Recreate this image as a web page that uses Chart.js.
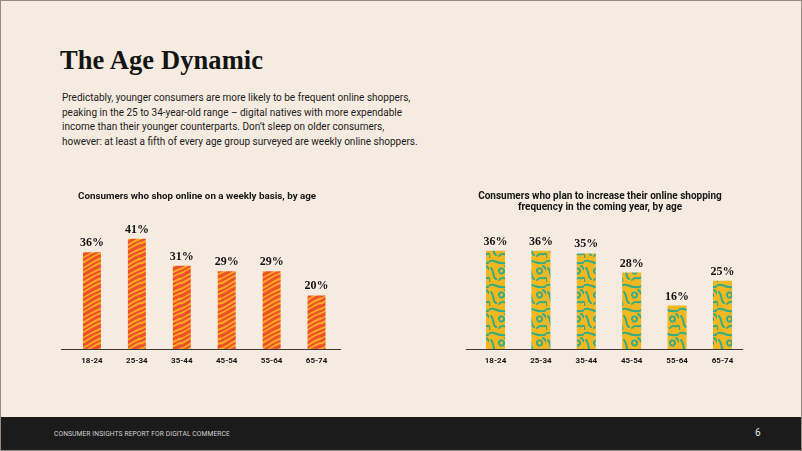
<!DOCTYPE html>
<html>
<head>
<meta charset="utf-8">
<script src="https://cdn.jsdelivr.net/npm/chart.js@4.4.1/dist/chart.umd.min.js"></script>
<style>
  html, body { margin: 0; padding: 0; }
  body { width: 802px; height: 451px; overflow: hidden; }
  #page { position: relative; width: 802px; height: 451px; box-sizing: border-box;
          background: #f5ebe1; border: 1px solid #958b82; overflow: hidden; }
  h1 { position: absolute; left: 59px; top: 44px; margin: 0; font-family: "Liberation Serif", serif;
       font-weight: bold; font-size: 26.5px; color: #141414; letter-spacing: 0.1px; }
  #intro { position: absolute; left: 61px; top: 90px; width: 380px; margin: 0;
           font-family: Roboto, sans-serif; font-size: 10px; line-height: 14.5px; color: #1c1c1c; }
  .cw { position: absolute; }
  #footer { position: absolute; left: 0; top: 416px; width: 802px; height: 35px; background: #1b1b1b; }
  #ftext { position: absolute; left: 53px; top: 13px; font-family: Roboto, sans-serif; font-size: 6.7px;
           color: #d0d0d0; letter-spacing: 0.1px; }
  #pnum { position: absolute; left: 754px; top: 10px; font-family: Roboto, sans-serif; font-size: 10px; color: #e8e8e8; }
</style>
</head>
<body>
<div id="page">
  <h1>The Age Dynamic</h1>
  <p id="intro">Predictably, younger consumers are more likely to be frequent online shoppers,<br>peaking in the 25 to 34-year-old range – digital natives with more expendable<br>income than their younger counterparts. Don’t sleep on older consumers,<br>however: at least a fifth of every age group surveyed are weekly online shoppers.</p>
  <div class="cw" style="left:60px; top:185px; width:285px; height:187px;"><canvas id="c1"></canvas></div>
  <div class="cw" style="left:450px; top:185px; width:300px; height:187px;"><canvas id="c2"></canvas></div>
  <div id="footer"><div id="ftext">CONSUMER INSIGHTS REPORT FOR DIGITAL COMMERCE</div><div id="pnum">6</div></div>
</div>
<script>
// ---- data ----
const ageGroups = ["18-24", "25-34", "35-44", "45-54", "55-64", "65-74"];
const weeklyShoppers = [36, 41, 31, 29, 29, 20];
const planIncrease = [36, 36, 35, 28, 16, 25];
const titleWeekly = ["Consumers who shop online on a weekly basis, by age"];
const titlePlan = ["Consumers who plan to increase their online shopping", "frequency in the coming year, by age"];

// ---- patterns ----
function zebraPattern() {
  const c = document.createElement('canvas'); c.width = 20; c.height = 20;
  const g = c.getContext('2d');
  g.fillStyle = '#fcab22'; g.fillRect(0, 0, 20, 20);
  g.strokeStyle = '#ef4e2a'; g.lineCap = 'butt';
  const widths = [2.8, 2.0, 3.3, 2.3];
  for (let k = -10; k <= 35; k += 5) {
    const idx = (((k / 5) % 4) + 4) % 4;
    g.lineWidth = widths[idx];
    g.beginPath();
    g.moveTo(-1, k + 0.5);
    g.bezierCurveTo(6, k - 1 - idx * 0.6, 12, k - 9 + idx * 0.5, 21, k - 10.5);
    g.stroke();
  }
  return g.createPattern(c, 'repeat');
}
function squigglePattern() {
  const c = document.createElement('canvas'); c.width = 19; c.height = 24;
  const g = c.getContext('2d');
  g.fillStyle = '#f5b71f'; g.fillRect(0, 0, 19, 24);
  g.strokeStyle = '#33ad87'; g.lineWidth = 2; g.lineCap = 'round';
  g.beginPath(); g.moveTo(-1, 4); g.bezierCurveTo(5, -1, 9, 9, 20, 4); g.stroke();
  g.beginPath(); g.moveTo(2, 10); g.bezierCurveTo(6, 14, 3, 19, 7, 21); g.stroke();
  g.beginPath(); g.arc(12.5, 13, 2.6, Math.PI * 0.9, Math.PI * 2.7); g.stroke();
  g.beginPath(); g.moveTo(10, 22); g.bezierCurveTo(13, 18, 17, 22, 20, 19); g.stroke();
  g.beginPath(); g.moveTo(-1, 19); g.bezierCurveTo(0, 20, 0.5, 22, 0, 24); g.stroke();
  g.beginPath(); g.moveTo(16, 8); g.bezierCurveTo(18, 9, 18.5, 11, 19.5, 12); g.stroke();
  return g.createPattern(c, 'repeat');
}

// ---- heading plugin (chart titles) ----
const heading = {
  id: 'heading',
  afterDraw(chart, args, opts) {
    const ctx = chart.ctx;
    ctx.save();
    ctx.font = 'bold ' + opts.size + 'px Roboto, sans-serif';
    ctx.fillStyle = '#151515';
    ctx.textAlign = opts.align;
    ctx.textBaseline = 'middle';
    opts.lines.forEach((t, i) => ctx.fillText(t, opts.x, opts.y + i * 11));
    ctx.restore();
  }
};

// ---- baseline plugin (axis line extending past the bars) ----
const baseline = {
  id: 'baseline',
  afterDatasetsDraw(chart, args, opts) {
    const ctx = chart.ctx;
    const y = Math.round(chart.scales.y.getPixelForValue(0)) + 0.5;
    ctx.save();
    ctx.strokeStyle = '#3a3a3a'; ctx.lineWidth = 1;
    ctx.beginPath();
    ctx.moveTo(chart.chartArea.left - opts.extLeft, y);
    ctx.lineTo(chart.chartArea.right + opts.extRight, y);
    ctx.stroke();
    ctx.restore();
  }
};

// ---- value label plugin ----
const valueLabels = {
  id: 'valueLabels',
  afterDatasetsDraw(chart) {
    const ctx = chart.ctx;
    const meta = chart.getDatasetMeta(0);
    ctx.save();
    ctx.font = 'bold 12px "Liberation Serif", serif';
    ctx.fillStyle = '#141414';
    ctx.textAlign = 'center';
    ctx.textBaseline = 'alphabetic';
    meta.data.forEach((bar, i) => {
      ctx.fillText(chart.data.datasets[0].data[i] + '%', bar.x, bar.y - 6);
    });
    ctx.restore();
  }
};

function makeChart(id, values, pattern, head, base, pad, barPct) {
  return new Chart(document.getElementById(id), {
    type: 'bar',
    data: { labels: ageGroups, datasets: [{ data: values, backgroundColor: pattern, borderWidth: 0,
            categoryPercentage: 1, barPercentage: barPct }] },
    options: {
      responsive: true, maintainAspectRatio: false, animation: false,
      layout: { padding: pad },
      plugins: {
        legend: { display: false }, tooltip: { enabled: false }, title: { display: false },
        heading: head, baseline: base
      },
      scales: {
        x: { grid: { display: false, drawTicks: false }, border: { display: false },
             ticks: { color: '#141414', padding: 7, font: { family: 'Roboto, sans-serif', weight: 'bold', size: 8 } } },
        y: { display: false, min: 0, max: 45 }
      }
    },
    plugins: [heading, baseline, valueLabels]
  });
}

makeChart('c1', weeklyShoppers, zebraPattern(),
  { lines: titleWeekly, align: 'left', x: 17, y: 10.7, size: 9.8 },
  { extLeft: 8.5, extRight: 2 },
  { left: 8.5, right: 7, top: 42, bottom: 0 }, 0.4);
makeChart('c2', planIncrease, squigglePattern(),
  { lines: titlePlan, align: 'center', x: 149, y: 10.7, size: 10 },
  { extLeft: 7, extRight: -2 },
  { left: 21.8, right: 5.8, top: 40, bottom: 0 }, 0.42);
</script>
</body>
</html>
